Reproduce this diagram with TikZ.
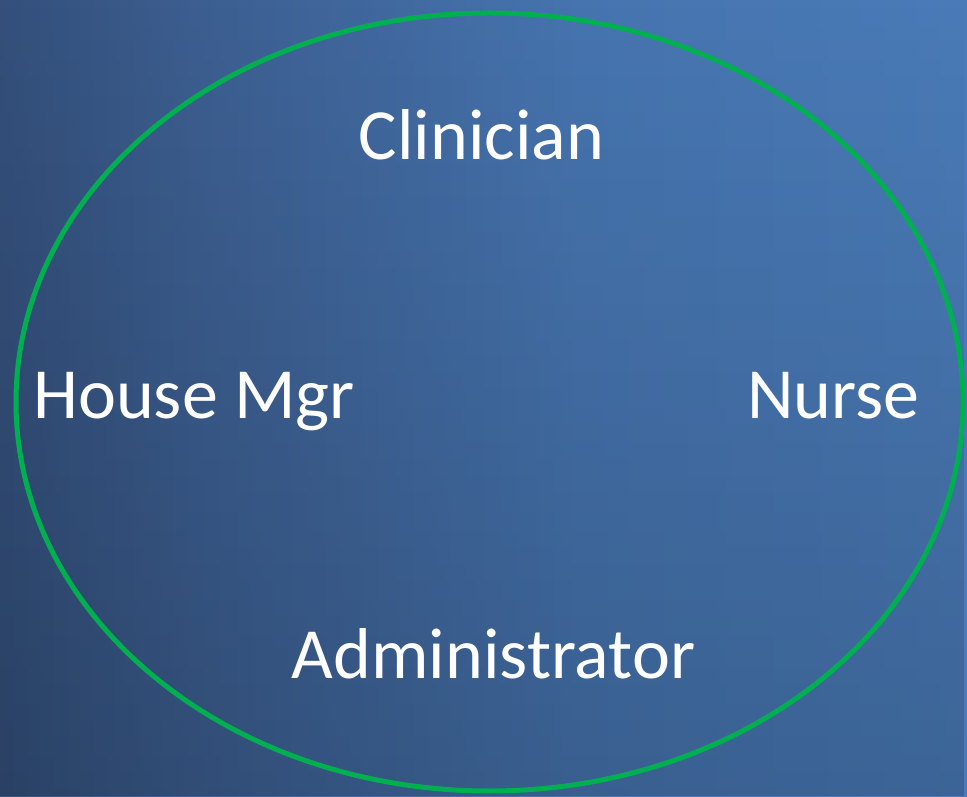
\documentclass[tikz,border=0pt]{standalone}
\usepackage{fontspec}
\setmainfont{Carlito}
\usepackage{tikz}
\usetikzlibrary{fadings}
\definecolor{ringgreen}{HTML}{00B050}
\definecolor{bga}{HTML}{1F2E48}
\definecolor{bgb}{HTML}{2B4166}
\definecolor{bgc}{HTML}{3C5E90}
\definecolor{bgd}{HTML}{4674AF}
\definecolor{bge}{HTML}{4A7BB8}
\definecolor{bgf}{HTML}{4B7DBA}
\pgfdeclarehorizontalshading{slidebg}{100bp}{color(0bp)=(bga); color(15bp)=(bgb);
  color(35bp)=(bgc); color(55bp)=(bgd); color(75bp)=(bge); color(100bp)=(bgf)}

\begin{document}
\begin{tikzpicture}[x=1pt,y=1pt]
				\tikzset{role/.style={text=white, font=\fontsize{72}{80}\selectfont, anchor=base, inner sep=0pt}}
				\useasboundingbox (0,0) rectangle (967,796);
				\shade[shading=slidebg] (0,0) rectangle (967,796);
				\fill[black, opacity=0.18, path fading=north] (0,0) rectangle (967,796);
				\draw[ringgreen, line width=5pt] (489.5,394) ellipse (473.5 and 389);

				\node[role] (clinician) at (481.5, 636) {Clinician};
				\node[role] (housemgr) at (194, 377) {House Mgr};
				\node[role] (nurse) at (833.5, 377) {Nurse};
				\node[role] (admin) at (493.5, 118) {Administrator};
			\end{tikzpicture}
\end{document}
